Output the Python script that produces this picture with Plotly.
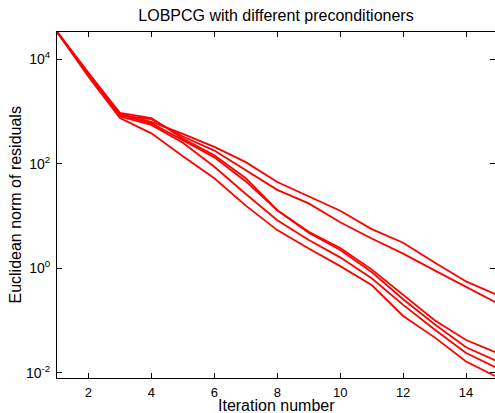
import plotly.graph_objects as go

# iteration numbers and residual norms (one list per preconditioner)
iterations = list(range(1, 16))

res_a = [3.3e4, 5495, 891, 631, 372, 209, 107, 44.7, 24.0, 12.6, 5.62, 3.09, 1.29, 0.562, 0.309]
res_b = [3.3e4, 5248, 832, 708, 331, 178, 75.9, 31.6, 17.4, 7.59, 3.72, 1.91, 0.912, 0.437, 0.214]
res_c = [3.3e4, 5370, 933, 741, 302, 145, 52.5, 12.9, 5.01, 2.45, 0.955, 0.309, 0.102, 0.0427, 0.0240]
res_d = [3.3e4, 5129, 851, 589, 282, 132, 45.7, 12.9, 4.79, 2.24, 0.851, 0.257, 0.0851, 0.0310, 0.0166]
res_e = [3.3e4, 5012, 794, 550, 251, 87.1, 26.3, 8.32, 3.47, 1.62, 0.646, 0.200, 0.0676, 0.0240, 0.0123]
res_f = [3.3e4, 4571, 741, 380, 138, 52.5, 15.8, 5.37, 2.40, 1.10, 0.479, 0.123, 0.0479, 0.0166, 0.00832]

y_tick_vals = [1e-2, 1e0, 1e2, 1e4]
y_tick_text = ['10<sup>-2</sup>', '10<sup>0</sup>', '10<sup>2</sup>', '10<sup>4</sup>']
x_tick_vals = [2, 4, 6, 8, 10, 12, 14]

fig = go.Figure()
for series in [res_a, res_b, res_c, res_d, res_e, res_f]:
    fig.add_trace(go.Scatter(x=iterations, y=series, mode='lines',
                             line=dict(color='#ff0000', width=1.8),
                             showlegend=False, hoverinfo='skip'))

axis_style = dict(showline=True, linecolor='black', linewidth=1, mirror='ticks',
                  ticks='inside', ticklen=5, tickcolor='black', showgrid=False,
                  zeroline=False, automargin=False)

fig.update_xaxes(range=[1, 14.92], tickvals=x_tick_vals, ticklabelstandoff=2,
                 tickfont=dict(size=13, color='black'), **axis_style)
fig.update_yaxes(type='log', range=[-2.096, 4.516], tickvals=y_tick_vals, ticktext=y_tick_text,
                 ticklabelstandoff=3, tickfont=dict(size=14, color='black'), **axis_style)

fig.update_layout(
    width=495, height=413,
    margin=dict(l=57, r=0, t=32, b=35, autoexpand=False),
    paper_bgcolor='white', plot_bgcolor='white',
    font=dict(family='Liberation Sans, Arial, sans-serif', color='black'),
    title=dict(text='LOBPCG with different preconditioners', font=dict(size=16, color='black'),
               x=0.5, xref='paper', xanchor='center', y=1 - 15 / 413, yref='container', yanchor='middle'),
)

# axis titles placed as annotations to keep the plot area fixed
fig.add_annotation(text='Iteration number', xref='paper', yref='paper', x=0.5, y=-0.0785,
                   yanchor='middle', showarrow=False, font=dict(size=16, color='black'))
fig.add_annotation(text='Euclidean norm of residuals', xref='paper', yref='paper', x=-0.097,
                   y=0.5, xanchor='center', yanchor='middle', textangle=-90, showarrow=False,
                   font=dict(size=16, color='black'))

# drop the page's default body margin so the figure sits at the window corner
fig.write_html('out.html', config={'displayModeBar': False},
               post_script="document.body.style.margin='0px';")
